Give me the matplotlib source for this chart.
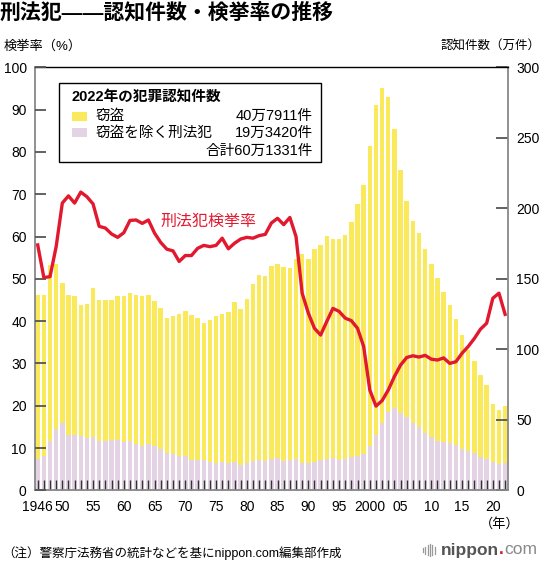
import numpy as np
import matplotlib
matplotlib.use("Agg")
import matplotlib.pyplot as plt
from matplotlib.patches import Rectangle
from matplotlib.lines import Line2D

plt.rcParams['font.family'] = ['Liberation Sans', 'Noto Sans CJK JP']

# === data ===
years = list(range(1946, 2023))

# total recognised cases (万件) = top of the yellow bars
total = [138.7, 138.6, 160.0, 160.3, 147.0, 138.5, 137.5, 131.7, 132.0, 143.6,
         135.0, 135.2, 135.0, 138.0, 137.6, 139.8, 138.4, 137.7, 138.2, 134.3,
         129.2, 121.9, 123.5, 125.2, 127.5, 124.2, 121.9, 119.0, 121.1, 123.4,
         124.8, 126.6, 133.4, 128.9, 135.7, 146.3, 152.8, 152.2, 158.9, 160.8,
         158.1, 157.8, 164.1, 167.3, 163.7, 170.8, 174.2, 180.1, 178.4, 178.3,
         181.2, 190.0, 203.4, 216.6, 244.3, 273.6, 285.4, 279.0, 256.3, 227.0,
         205.1, 190.9, 182.7, 171.4, 160.4, 150.3, 140.3, 131.4, 121.2, 109.9,
         99.6, 91.5, 81.7, 74.9, 61.4, 56.8, 60.1]

# cases excluding theft (万件) = lavender bars
other = [22.4, 24.3, 35.0, 43.2, 47.7, 39.0, 39.0, 38.5, 37.3, 37.8,
         34.7, 34.7, 35.9, 35.7, 34.0, 34.7, 32.8, 31.4, 32.6, 31.7,
         29.1, 26.5, 25.7, 24.3, 24.1, 21.7, 21.7, 21.5, 20.1, 19.6,
         19.8, 19.4, 20.1, 18.2, 19.1, 20.5, 21.5, 21.1, 22.1, 22.6,
         20.9, 21.6, 21.9, 19.2, 19.5, 20.4, 21.6, 21.9, 22.8, 21.4,
         22.3, 23.3, 24.5, 25.9, 31.6, 39.4, 47.7, 55.3, 58.7, 54.6,
         52.0, 48.0, 44.9, 40.6, 37.8, 34.9, 34.4, 33.5, 31.8, 29.2,
         27.6, 26.1, 23.5, 21.9, 20.0, 19.0, 19.3]

# clearance rate (%)
rate = [58.0, 50.3, 50.5, 57.6, 67.9, 69.6, 67.9, 70.5, 69.4, 67.7,
        62.4, 62.0, 60.6, 59.8, 60.9, 63.8, 63.9, 63.1, 63.9, 60.8,
        58.6, 57.0, 56.6, 54.1, 55.5, 55.5, 57.2, 57.9, 57.6, 57.9,
        59.6, 57.1, 58.4, 59.4, 59.8, 59.6, 60.2, 60.5, 63.2, 64.3,
        62.8, 64.5, 60.0, 46.6, 41.9, 38.3, 36.7, 39.9, 43.0, 42.3,
        40.7, 40.1, 38.3, 34.0, 23.7, 19.9, 21.2, 23.7, 26.9, 29.6,
        31.4, 31.8, 31.5, 31.9, 31.0, 30.8, 31.3, 30.0, 30.4, 32.4,
        34.0, 35.9, 38.1, 39.5, 45.4, 46.6, 41.6]

label_years = [1946, 1950, 1955, 1960, 1965, 1970, 1975, 1980, 1985, 1990,
               1995, 2000, 2005, 2010, 2015, 2020]
label_text = ["1946", "50", "55", "60", "65", "70", "75", "80", "85", "90",
              "95", "2000", "05", "10", "15", "20"]

legend_rows = [("窃盗", "40万7911件"), ("窃盗を除く刑法犯", "19万3420件")]
legend_total = "合計60万1331件"

YELLOW = "#fbe95c"
LAVENDER = "#e3d3e5"
RED = "#e2182f"

theft = np.array(total) - np.array(other)

fig = plt.figure(figsize=(5.43, 5.65), dpi=100)
ax = fig.add_axes([35 / 543, 1 - 490.3 / 565, 473 / 543, 423 / 565])
ax2 = ax.twinx()

# === bars (right axis, 万件) ===
ax.bar(years, other, width=0.72, color=LAVENDER, zorder=1)
ax.bar(years, theft, bottom=other, width=0.72, color=YELLOW, zorder=1)
ax.set_ylim(0, 300)
ax.set_xlim(1945.56, 2022.47)
ax.yaxis.tick_right()
ax.set_yticks(range(0, 301, 50))
ax.tick_params(axis='y', direction='in', length=9, width=1.3, color='#555',
               labelsize=10, pad=6)
ax.set_xticks(years)
ax.set_xticklabels([label_text[label_years.index(y)] if y in label_years else ""
                    for y in years])
ax.tick_params(axis='x', direction='in', length=7, width=1.0, color='#333',
               labelsize=10, pad=7)
for s in ['left', 'right', 'bottom']:
    ax.spines[s].set_color('#888')
    ax.spines[s].set_linewidth(1.3)
ax.spines['top'].set_color('black')
ax.spines['top'].set_linewidth(1.0)

# === clearance rate line (left axis, %) ===
ax2.plot(years, rate, color=RED, lw=2.4, solid_joinstyle='round', zorder=3)
ax2.set_ylim(0, 100)
ax2.yaxis.tick_left()
ax2.set_yticks(range(0, 101, 10))
ax2.tick_params(axis='y', direction='in', length=8, width=1.3, color='#555',
                labelsize=10, pad=6)
for s in ax2.spines.values():
    s.set_visible(False)

ax2.text(0.2643, 0.635, "刑法犯検挙率", transform=ax2.transAxes, color=RED,
         fontsize=11.5, va='center', ha='left')

# === legend box ===
ax2.add_patch(Rectangle((0.0514, 0.7754), 0.5533, 0.1882, transform=ax2.transAxes,
                        facecolor='white', edgecolor='black', lw=1.0, zorder=5))
ax2.text(0.0782, 0.9298, "2022年の犯罪認知件数", transform=ax2.transAxes,
         fontsize=10.5, fontweight='bold', va='center', ha='left', zorder=6)
row_y = [0.8848, 0.8450]
for (name, val), y, c in zip(legend_rows, row_y, [YELLOW, LAVENDER]):
    ax2.add_patch(Rectangle((0.0782, y - 0.0107), 0.0317, 0.0213,
                            transform=ax2.transAxes, facecolor=c, edgecolor='none',
                            zorder=6))
    ax2.text(0.1268, y, name, transform=ax2.transAxes, fontsize=10.5,
             va='center', ha='left', zorder=6)
    ax2.text(0.5877, y, val, transform=ax2.transAxes, fontsize=10.5,
             va='center', ha='right', zorder=6)
ax2.text(0.5877, 0.8022, legend_total, transform=ax2.transAxes, fontsize=10.5,
         va='center', ha='right', zorder=6)

# === titles and notes ===
fig.text(0.0, 0.978, "刑法犯——認知件数・検挙率の推移", fontsize=15,
         fontweight='bold', va='center', ha='left')
fig.text(0.006, 0.917, "検挙率（%）", fontsize=9.5, va='center', ha='left')
fig.text(0.995, 0.917, "認知件数（万件）", fontsize=9, va='center', ha='right')
fig.text(500 / 543, 1 - 524 / 565, "（年）", fontsize=9.5, va='center', ha='center')
fig.text(0.004, 1 - 553 / 565, "（注）警察庁法務省の統計などを基にnippon.com編集部作成",
         fontsize=9, va='center', ha='left')

# nippon.com logo
logo_y = 1 - 550 / 565
t1 = fig.text(441 / 543, logo_y, "nippon", fontsize=12.5, fontweight='bold',
              color='#555', va='center', ha='left')
fig.canvas.draw()
bb = t1.get_window_extent()
t2 = fig.text(bb.x1 / 543, logo_y, ".", fontsize=12.5, fontweight='bold',
              color=RED, va='center', ha='left')
bb2 = t2.get_window_extent()
fig.text(bb2.x1 / 543, logo_y, "com", fontsize=12.5, color='#888',
         va='center', ha='left')
for i, h in enumerate([4, 7, 10, 12, 10, 7]):
    x = (423 + i * 2.3) / 543
    fig.add_artist(Line2D([x, x], [logo_y - h / 2 / 565, logo_y + h / 2 / 565],
                          color='#999', lw=0.9))

fig.savefig("out.png", dpi=100)
